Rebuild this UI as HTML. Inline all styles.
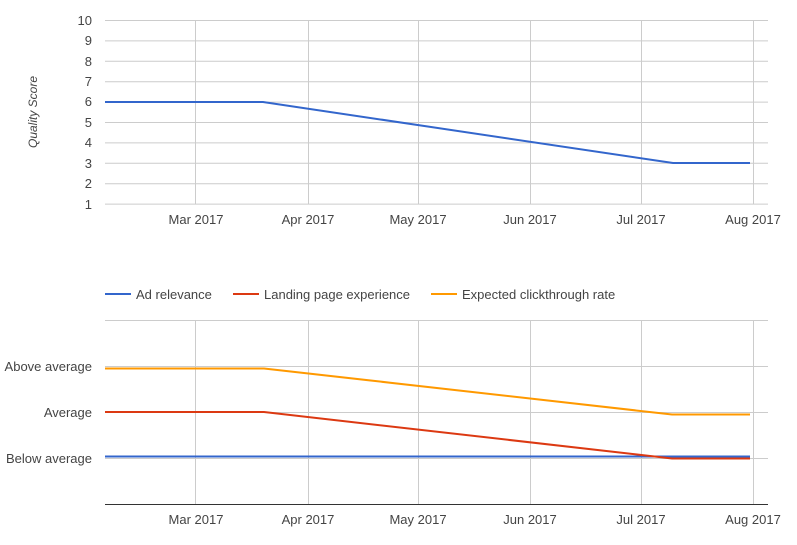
<!DOCTYPE html>
<html><head><style>body{margin:0;background:#fff}svg{display:block}</style></head><body>
<svg width="797" height="545" xmlns="http://www.w3.org/2000/svg" font-family="Liberation Sans, Arial, sans-serif" font-size="13" fill="#444">
<g stroke="#ccc" stroke-width="1">
<line x1="105" x2="768" y1="20.5" y2="20.5"/><line x1="105" x2="768" y1="40.9" y2="40.9"/><line x1="105" x2="768" y1="61.3" y2="61.3"/><line x1="105" x2="768" y1="81.7" y2="81.7"/><line x1="105" x2="768" y1="102.1" y2="102.1"/><line x1="105" x2="768" y1="122.5" y2="122.5"/><line x1="105" x2="768" y1="142.9" y2="142.9"/><line x1="105" x2="768" y1="163.3" y2="163.3"/><line x1="105" x2="768" y1="183.7" y2="183.7"/><line x1="105" x2="768" y1="204.1" y2="204.1"/>
<line x1="195.5" x2="195.5" y1="20" y2="204"/><line x1="308.5" x2="308.5" y1="20" y2="204"/><line x1="418.5" x2="418.5" y1="20" y2="204"/><line x1="530.5" x2="530.5" y1="20" y2="204"/><line x1="641.5" x2="641.5" y1="20" y2="204"/><line x1="753.5" x2="753.5" y1="20" y2="204"/>
<line x1="105" x2="768" y1="320.5" y2="320.5"/><line x1="105" x2="768" y1="366.5" y2="366.5"/><line x1="105" x2="768" y1="412.5" y2="412.5"/><line x1="105" x2="768" y1="458.5" y2="458.5"/>
<line x1="195.5" x2="195.5" y1="320" y2="504"/><line x1="308.5" x2="308.5" y1="320" y2="504"/><line x1="418.5" x2="418.5" y1="320" y2="504"/><line x1="530.5" x2="530.5" y1="320" y2="504"/><line x1="641.5" x2="641.5" y1="320" y2="504"/><line x1="753.5" x2="753.5" y1="320" y2="504"/>
</g>
<line x1="105" x2="768" y1="504.5" y2="504.5" stroke="#333" stroke-width="1"/>
<g text-anchor="end">
<text x="92" y="25">10</text><text x="92" y="45">9</text><text x="92" y="66">8</text><text x="92" y="86">7</text><text x="92" y="106">6</text><text x="92" y="127">5</text><text x="92" y="147">4</text><text x="92" y="168">3</text><text x="92" y="188">2</text><text x="92" y="209">1</text>
<text x="92" y="371">Above average</text><text x="92" y="417">Average</text><text x="92" y="463">Below average</text>
</g>
<text transform="translate(37,112) rotate(-90)" text-anchor="middle" font-style="italic" font-size="12">Quality Score</text>
<g text-anchor="middle">
<text x="196" y="224">Mar 2017</text><text x="308" y="224">Apr 2017</text><text x="418" y="224">May 2017</text><text x="530" y="224">Jun 2017</text><text x="641" y="224">Jul 2017</text><text x="753" y="224">Aug 2017</text>
<text x="196" y="524">Mar 2017</text><text x="308" y="524">Apr 2017</text><text x="418" y="524">May 2017</text><text x="530" y="524">Jun 2017</text><text x="641" y="524">Jul 2017</text><text x="753" y="524">Aug 2017</text>
</g>
<polyline points="105,102 263,102 673,163 750,163" fill="none" stroke="#3366cc" stroke-width="2"/>
<polyline points="105,368.5 264,368.5 672,414.5 750,414.5" fill="none" stroke="#ff9900" stroke-width="2"/>
<polyline points="105,456.5 750,456.5" fill="none" stroke="#3366cc" stroke-width="2"/>
<polyline points="105,412 264,412 672,458.5 750,458.5" fill="none" stroke="#dc3912" stroke-width="2"/>
<line x1="105" x2="131" y1="294" y2="294" stroke="#3366cc" stroke-width="2"/><text x="136" y="299">Ad relevance</text>
<line x1="233" x2="259" y1="294" y2="294" stroke="#dc3912" stroke-width="2"/><text x="264" y="299">Landing page experience</text>
<line x1="431" x2="457" y1="294" y2="294" stroke="#ff9900" stroke-width="2"/><text x="462" y="299">Expected clickthrough rate</text>
</svg>
</body></html>
